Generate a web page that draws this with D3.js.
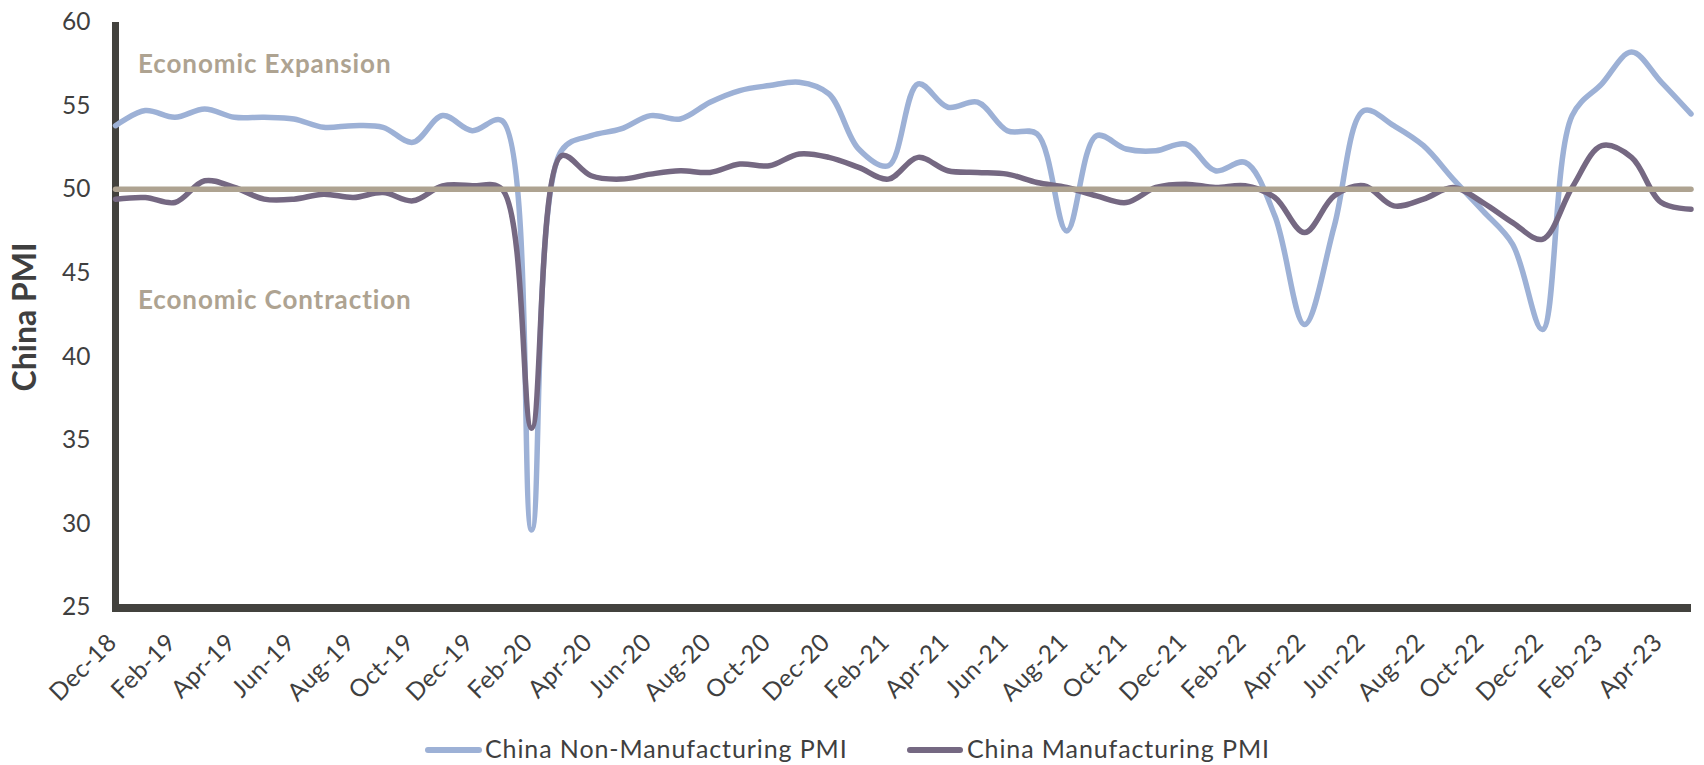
<!DOCTYPE html>
<html>
<head>
<meta charset="utf-8">
<script src="https://cdn.jsdelivr.net/npm/d3@7"></script>
<style>
  html, body { margin: 0; padding: 0; background: #ffffff; }
  svg { display: block; }
  text { font-family: Lato, "Open Sans", sans-serif; }
</style>
</head>
<body>
<svg id="chart" width="1704" height="765"></svg>
<script>
// ---- Data ----
const months = [
  "Dec-18","Jan-19","Feb-19","Mar-19","Apr-19","May-19","Jun-19","Jul-19","Aug-19","Sep-19","Oct-19","Nov-19",
  "Dec-19","Jan-20","Feb-20","Mar-20","Apr-20","May-20","Jun-20","Jul-20","Aug-20","Sep-20","Oct-20","Nov-20",
  "Dec-20","Jan-21","Feb-21","Mar-21","Apr-21","May-21","Jun-21","Jul-21","Aug-21","Sep-21","Oct-21","Nov-21",
  "Dec-21","Jan-22","Feb-22","Mar-22","Apr-22","May-22","Jun-22","Jul-22","Aug-22","Sep-22","Oct-22","Nov-22",
  "Dec-22","Jan-23","Feb-23","Mar-23","Apr-23","May-23"
];
const nonManufacturingPMI = [
  53.8, 54.7, 54.3, 54.8, 54.3, 54.3, 54.2, 53.7, 53.8, 53.7, 52.8, 54.4,
  53.5, 54.1, 29.6, 52.3, 53.2, 53.6, 54.4, 54.2, 55.2, 55.9, 56.2, 56.4,
  55.7, 52.4, 51.4, 56.3, 54.9, 55.2, 53.5, 53.3, 47.5, 53.2, 52.4, 52.3,
  52.7, 51.1, 51.6, 48.4, 41.9, 47.8, 54.7, 53.8, 52.6, 50.6, 48.7, 46.7,
  41.6, 54.4, 56.3, 58.2, 56.4, 54.5
];
const manufacturingPMI = [
  49.4, 49.5, 49.2, 50.5, 50.1, 49.4, 49.4, 49.7, 49.5, 49.8, 49.3, 50.2,
  50.2, 50.0, 35.7, 52.0, 50.8, 50.6, 50.9, 51.1, 51.0, 51.5, 51.4, 52.1,
  51.9, 51.3, 50.6, 51.9, 51.1, 51.0, 50.9, 50.4, 50.1, 49.6, 49.2, 50.1,
  50.3, 50.1, 50.2, 49.5, 47.4, 49.6, 50.2, 49.0, 49.4, 50.1, 49.2, 48.0,
  47.0, 50.1, 52.6, 51.9, 49.2, 48.8
];
const thresholdValue = 50;
const xTickLabels = [
  "Dec-18","Feb-19","Apr-19","Jun-19","Aug-19","Oct-19","Dec-19","Feb-20","Apr-20","Jun-20",
  "Aug-20","Oct-20","Dec-20","Feb-21","Apr-21","Jun-21","Aug-21","Oct-21","Dec-21","Feb-22",
  "Apr-22","Jun-22","Aug-22","Oct-22","Dec-22","Feb-23","Apr-23"
];
const yTickValues = [25, 30, 35, 40, 45, 50, 55, 60];
const seriesNames = ["China Non-Manufacturing PMI", "China Manufacturing PMI"];
const yTitle = "China PMI";
const zoneLabels = ["Economic Expansion", "Economic Contraction"];

// ---- Styles ----
const colors = { nonMfg: "#9db1d6", mfg: "#756882", threshold: "#aea391", axis: "#43423e", text: "#3f3f3f" };

const svg = d3.select("#chart");
const x = d3.scalePoint().domain(months).range([115.5, 1691]);
const y = d3.scaleLinear().domain([25, 60]).range([607, 22]);

// Y axis
const gy = svg.append("g").attr("transform", "translate(115.5,0)")
  .call(d3.axisLeft(y).tickValues(yTickValues).tickSize(0).tickSizeOuter(0).tickPadding(25).tickFormat(d3.format("d")));
gy.select(".domain").attr("stroke", colors.axis).attr("stroke-width", 7).attr("d", "M0,22V612");
gy.selectAll("text").attr("font-size", 24.5).attr("fill", colors.text).attr("font-family", "Lato, sans-serif");

// X axis
const gx = svg.append("g").attr("transform", "translate(0,608)")
  .call(d3.axisBottom(x).tickValues(xTickLabels).tickSize(0).tickSizeOuter(0));
gx.select(".domain").attr("stroke", colors.axis).attr("stroke-width", 8).attr("d", "M112,0H1691");
gx.selectAll(".tick text")
  .attr("font-size", 24.5).attr("fill", colors.text).attr("font-family", "Lato, sans-serif")
  .attr("letter-spacing", 0.4)
  .attr("x", 0).attr("y", 0).attr("dy", 0)
  .attr("text-anchor", "end")
  .attr("transform", "translate(2,36) rotate(-45)");

// Lines
const line = d3.line().x((d, i) => x(months[i])).y(d => y(d)).curve(d3.curveCatmullRom.alpha(0.5));
svg.append("path").datum(nonManufacturingPMI).attr("d", line)
  .attr("fill", "none").attr("stroke", colors.nonMfg).attr("stroke-width", 5.5)
  .attr("stroke-linecap", "round").attr("stroke-linejoin", "round");
svg.append("path").datum(manufacturingPMI).attr("d", line)
  .attr("fill", "none").attr("stroke", colors.mfg).attr("stroke-width", 5.5)
  .attr("stroke-linecap", "round").attr("stroke-linejoin", "round");

// Threshold line at 50
svg.append("line")
  .attr("x1", x(months[0])).attr("x2", x(months[months.length - 1]))
  .attr("y1", y(thresholdValue)).attr("y2", y(thresholdValue))
  .attr("stroke", colors.threshold).attr("stroke-width", 5.5).attr("stroke-linecap", "round");

// Zone labels
svg.append("text").attr("x", 138).attr("y", 73).text(zoneLabels[0])
  .attr("font-size", 26).attr("letter-spacing", 0.9).attr("font-weight", "bold").attr("fill", colors.threshold);
svg.append("text").attr("x", 138).attr("y", 309).text(zoneLabels[1])
  .attr("font-size", 26).attr("letter-spacing", 0.9).attr("font-weight", "bold").attr("fill", colors.threshold);

// Y title
svg.append("text").attr("transform", "translate(36,317) rotate(-90)")
  .attr("text-anchor", "middle").attr("font-size", 32).attr("font-weight", "bold")
  .attr("fill", colors.text).text(yTitle);

// Legend
const legendItems = [
  { name: seriesNames[0], color: colors.nonMfg, x1: 425, x2: 482, tx: 485 },
  { name: seriesNames[1], color: colors.mfg, x1: 907, x2: 963, tx: 967 }
];
const lg = svg.append("g");
legendItems.forEach(it => {
  lg.append("line").attr("x1", it.x1 + 3).attr("x2", it.x2 - 3).attr("y1", 750).attr("y2", 750)
    .attr("stroke", it.color).attr("stroke-width", 6).attr("stroke-linecap", "round");
  lg.append("text").attr("x", it.tx).attr("y", 758).attr("font-size", 25).attr("letter-spacing", 0.9)
    .attr("fill", colors.text).text(it.name);
});
</script>
</body>
</html>
